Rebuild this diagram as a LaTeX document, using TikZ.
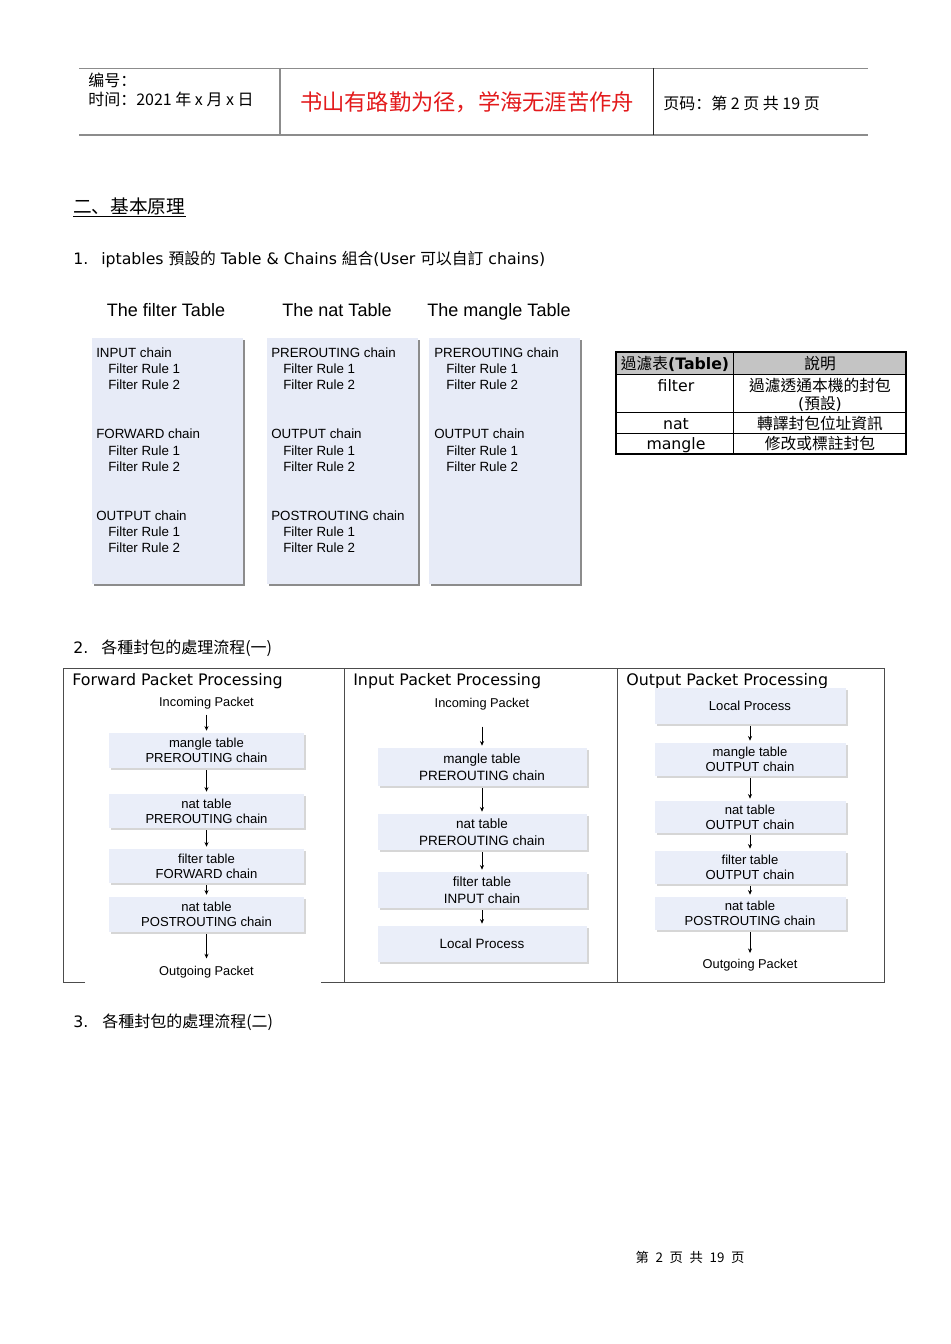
\documentclass[tikz,border=0pt]{standalone}
\usepackage{fontspec}
\setmainfont{DejaVu Sans}
\newfontfamily\arial{Liberation Sans}
\newfontfamily\zhtc{Noto Sans CJK TC}
\newfontfamily\zhsc{Noto Sans CJK SC}
\usetikzlibrary{arrows.meta, positioning, calc, shadows}

\definecolor{boxfill}{HTML}{E7EBF7}
\definecolor{flowfill}{HTML}{EAEEF9}
\definecolor{headgray}{HTML}{C4C4C4}
\definecolor{mottored}{HTML}{E31A1C}
\newcommand\ruleindent{\hspace*{9pt}}

\begin{document}
\begin{tikzpicture}[x=0.75pt, y=-0.75pt,
    txt/.style={inner sep=0pt, text height=1em, text depth=0pt},
    hdtxt/.style={txt, text height=1.05em, anchor=west, font=\zhsc\fontsize{12}{14}\selectfont},
    bodytxt/.style={txt, anchor=west, font=\fontsize{11.8}{14}\selectfont},
    tabletitle/.style={txt, font=\arial\fontsize{13.5}{16}\selectfont},
    bigbox/.style={fill=boxfill, anchor=north west, inner sep=0pt,
                   minimum width=113pt, minimum height=184.5pt,
                   drop shadow={shadow xshift=1.6pt, shadow yshift=-1.6pt,
                                fill=black!60, opacity=0.75}},
    rules/.style={anchor=north west, inner sep=0pt, align=left,
                  font=\arial\fontsize{10}{12.2}\selectfont},
    celltxt/.style={txt, font=\fontsize{11.8}{13.5}\selectfont},
    coltitle/.style={txt, anchor=west, font=\fontsize{11.9}{14}\selectfont},
    flowlabel/.style={txt, font=\arial\fontsize{9.6}{11.5}\selectfont},
    flowbox/.style={fill=flowfill, inner sep=0pt, align=center,
                    font=\arial\fontsize{9.8}{11.5}\selectfont,
                    drop shadow={shadow xshift=1.8pt, shadow yshift=-1.8pt,
                                 fill=black!35, opacity=0.45}},
    flowarrow/.style={-{Stealth[length=3.5pt,width=3pt]}, line width=0.6pt,
                      shorten <=1.5pt, shorten >=1.5pt}]

  \fill[white] (0,0) rectangle (950,1344);
  \useasboundingbox (0,0) rectangle (950,1344);

  % page header
  \draw[black!45, line width=0.6pt] (79,68) -- (868,68);
  \draw[black!45, line width=1.5pt] (79,135) -- (868,135);
  \draw[black!45, line width=0.8pt] (280,68) -- (280,135);
  \draw[black!85, line width=0.6pt] (653,68) -- (653,135);
  \node[hdtxt] (serial) at (88,80) {编号：};
  \node[hdtxt] (date) at (88,99) {时间：2021 年 x 月 x 日};
  \node[txt, text height=1.1em, text=mottored, font=\zhsc\fontsize{16.7}{18}\selectfont]
       (motto) at (467,103) {书山有路勤为径，学海无涯苦作舟};
  \node[hdtxt] (pageno) at (663,103) {页码：第 2 页\ 共 19 页};

  % section heading
  \node[txt, text height=1.05em, anchor=west, font=\zhsc\fontsize{14}{16}\selectfont]
       (sec) at (73,207) {二、基本原理};
  \draw[line width=0.6pt] ([yshift=-1.8pt]sec.south west) -- ([yshift=-1.8pt]sec.south east);

  \node[bodytxt] (num1) at (73,258) {1.};
  \node[bodytxt] (item1) at (101,258)
       {iptables {\zhtc 預設的} Table \& Chains {\zhtc 組合}(User {\zhtc 可以自訂} chains)};

  % the three tables
  \node[tabletitle] (filtertitle) at (166,310) {The filter Table};
  \node[tabletitle] (nattitle)    at (337,310) {The nat Table};
  \node[tabletitle] (mangletitle) at (499,310) {The mangle Table};

  \node[bigbox] (filterbox) at (92,338)  {};
  \node[bigbox] (natbox)    at (267,338) {};
  \node[bigbox] (manglebox) at (429,338) {};

  \node[rules] (filterrules) at (96,347.5)
       {INPUT chain\\\ruleindent Filter Rule 1\\\ruleindent Filter Rule 2\\[24.4pt]
        FORWARD chain\\\ruleindent Filter Rule 1\\\ruleindent Filter Rule 2\\[24.4pt]
        OUTPUT chain\\\ruleindent Filter Rule 1\\\ruleindent Filter Rule 2};
  \node[rules] (natrules) at (271,347.5)
       {PREROUTING chain\\\ruleindent Filter Rule 1\\\ruleindent Filter Rule 2\\[24.4pt]
        OUTPUT chain\\\ruleindent Filter Rule 1\\\ruleindent Filter Rule 2\\[24.4pt]
        POSTROUTING chain\\\ruleindent Filter Rule 1\\\ruleindent Filter Rule 2};
  \node[rules] (manglerules) at (434,347.5)
       {PREROUTING chain\\\ruleindent Filter Rule 1\\\ruleindent Filter Rule 2\\[24.4pt]
        OUTPUT chain\\\ruleindent Filter Rule 1\\\ruleindent Filter Rule 2};

  % legend table
  \fill[headgray] (616,352) rectangle (906,374);
  \draw[line width=0.7pt] (616,374) -- (906,374) (616,412) -- (906,412)
                          (616,433) -- (906,433) (733,352) -- (733,454);
  \draw[line width=1.6pt] (616,352) rectangle (906,454);
  \node[celltxt] (hdname) at (675,363) {{\zhtc 過濾表}\textbf{(Table)}};
  \node[celltxt] (hddesc) at (820,363) {\zhtc 說明};
  \node[celltxt] (rfilter) at (676,385) {filter};
  \node[celltxt] (dfilter) at (820,385) {\zhtc 過濾透通本機的封包};
  \node[celltxt] (dfilterb) at (820,403) {({\zhtc 預設})};
  \node[celltxt] (rnat) at (676,423) {nat};
  \node[celltxt] (dnat) at (820,423) {\zhtc 轉譯封包位址資訊};
  \node[celltxt] (rmangle) at (676,443) {mangle};
  \node[celltxt] (dmangle) at (820,443) {\zhtc 修改或標註封包};

  % packet flows
  \node[bodytxt] (num2) at (73,647) {2.};
  \node[bodytxt, font=\zhtc\fontsize{12}{14}\selectfont] (item2) at (101,647)
       {各種封包的處理流程(一)};

  \draw[black!70, line width=0.7pt] (85,982) -- (63,982) -- (63,668) -- (884,668)
                                    -- (884,982) -- (321,982);
  \draw[black!70, line width=0.7pt] (344,668) -- (344,982) (617,668) -- (617,982);

  \node[coltitle] (fwdtitle) at (72,679)  {Forward Packet Processing};
  \node[coltitle] (inptitle) at (353,679) {Input Packet Processing};
  \node[coltitle] (outtitle) at (626,679) {Output Packet Processing};

  % forward
  \node[flowlabel] (fwdin) at (206.5,700) {Incoming Packet};
  \node[flowbox, minimum width=146.25pt, minimum height=26.25pt]
       (fwdmangle) at (206.5,750.5) {mangle table\\PREROUTING chain};
  \node[flowbox, minimum width=146.25pt, minimum height=25.5pt]
       (fwdnatpre) at (206.5,811) {nat table\\PREROUTING chain};
  \node[flowbox, minimum width=146.25pt, minimum height=25.5pt]
       (fwdfilter) at (206.5,866) {filter table\\FORWARD chain};
  \node[flowbox, minimum width=146.25pt, minimum height=26.25pt]
       (fwdnatpost) at (206.5,914.5) {nat table\\POSTROUTING chain};
  \node[flowlabel] (fwdout) at (206.5,969) {Outgoing Packet};
  \draw[flowarrow] ([yshift=-4.2pt]fwdin.south) -- (fwdmangle.north);
  \draw[flowarrow] (fwdmangle.south) -- (fwdnatpre.north);
  \draw[flowarrow] (fwdnatpre.south) -- (fwdfilter.north);
  \draw[flowarrow] (fwdfilter.south) -- (fwdnatpost.north);
  \draw[flowarrow, shorten >=2.7pt] (fwdnatpost.south) -- (fwdout.north);

  % input
  \node[flowlabel] (inpin) at (482,701) {Incoming Packet};
  \node[flowbox, minimum width=156.75pt, minimum height=28.5pt,
        font=\arial\fontsize{10.1}{12.5}\selectfont]
       (inpmangle) at (482,767) {mangle table\\PREROUTING chain};
  \node[flowbox, minimum width=156.75pt, minimum height=27pt,
        font=\arial\fontsize{10.1}{12.5}\selectfont]
       (inpnat) at (482,832) {nat table\\PREROUTING chain};
  \node[flowbox, minimum width=156.75pt, minimum height=27pt,
        font=\arial\fontsize{10.1}{12.5}\selectfont]
       (inpfilter) at (482,890) {filter table\\INPUT chain};
  \node[flowbox, minimum width=156.75pt, minimum height=27pt,
        font=\arial\fontsize{10.1}{12.5}\selectfont]
       (inplocal) at (482,944) {Local Process};
  \draw[flowarrow] ([yshift=-12.45pt]inpin.south) -- (inpmangle.north);
  \draw[flowarrow] (inpmangle.south) -- (inpnat.north);
  \draw[flowarrow] (inpnat.south) -- (inpfilter.north);
  \draw[flowarrow] (inpfilter.south) -- (inplocal.north);

  % output
  \node[flowbox, minimum width=143.25pt, minimum height=27pt]
       (outlocal) at (750,706) {Local Process};
  \node[flowbox, minimum width=143.25pt, minimum height=24.75pt]
       (outmangle) at (750,759.5) {mangle table\\OUTPUT chain};
  \node[flowbox, minimum width=143.25pt, minimum height=24pt]
       (outnat) at (750,817) {nat table\\OUTPUT chain};
  \node[flowbox, minimum width=143.25pt, minimum height=24.75pt]
       (outfilter) at (750,867.5) {filter table\\OUTPUT chain};
  \node[flowbox, minimum width=143.25pt, minimum height=24.75pt]
       (outnatpost) at (750,913.5) {nat table\\POSTROUTING chain};
  \node[flowlabel] (outout) at (750,962) {Outgoing Packet};
  \draw[flowarrow] (outlocal.south) -- (outmangle.north);
  \draw[flowarrow] (outmangle.south) -- (outnat.north);
  \draw[flowarrow] (outnat.south) -- (outfilter.north);
  \draw[flowarrow] (outfilter.south) -- (outnatpost.north);
  \draw[flowarrow] (outnatpost.south) -- (outout.north);

  \node[bodytxt] (num3) at (73,1021) {3.};
  \node[bodytxt, font=\zhtc\fontsize{12}{14}\selectfont] (item3) at (102,1021)
       {各種封包的處理流程(二)};

  % footer
  \node[txt, font=\zhsc\fontsize{10}{12}\selectfont] (footer) at (690,1256)
       {第\hspace{5pt}2\hspace{5pt}页\hspace{5pt}共\hspace{5pt}19\hspace{5pt}页};
\end{tikzpicture}
\end{document}
